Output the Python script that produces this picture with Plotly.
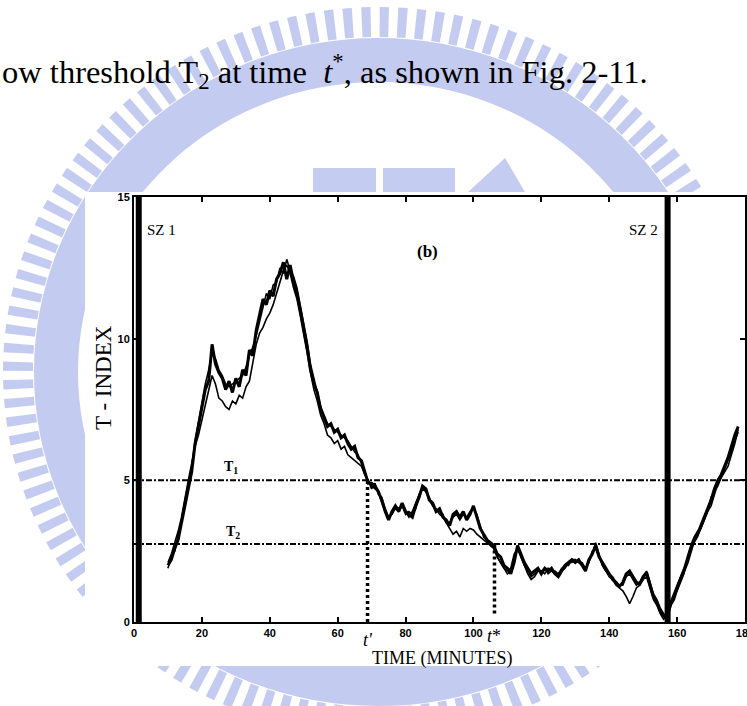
import plotly.graph_objects as go

# ---- data -------------------------------------------------------------
minutes = list(range(10, 179))  # one sample per minute, 10..178

# thick curve
t_index_a = [
    2.0, 2.2, 2.6, 2.9, 3.5, 4.1, 4.7, 5.3, 6.3, 6.9,        # 10-19
    7.5, 8.2, 8.5, 9.8, 9.1, 8.8, 8.6, 8.2, 8.5, 8.1,        # 20-29
    8.6, 8.3, 8.9, 8.7, 9.6, 9.4, 10.3, 10.8, 11.4, 11.2,    # 30-39
    11.7, 11.5, 12.1, 12.3, 12.7, 12.1, 12.6, 12.0, 11.6, 11.0,  # 40-49
    10.4, 9.7, 8.9, 8.4, 8.1, 7.5, 7.2, 6.9, 7.0, 6.7,       # 50-59
    6.8, 6.5, 6.6, 6.3, 6.1, 6.2, 5.8, 5.7, 5.3, 4.9,        # 60-69
    4.9, 4.8, 4.6, 4.3, 3.9, 3.6, 3.9, 4.1, 3.9, 4.2,        # 70-79
    3.9, 3.8, 3.7, 4.1, 4.4, 4.8, 4.7, 4.3, 4.2, 3.9,        # 80-89
    4.0, 3.7, 3.6, 3.4, 3.8, 3.9, 3.7, 3.9, 3.6, 3.8,        # 90-99
    4.1, 3.7, 3.3, 3.1, 2.9, 2.8, 2.7, 2.4, 2.3, 2.0,        # 100-109
    1.9, 1.7, 2.1, 2.7, 2.4, 2.1, 1.9, 1.7, 1.8, 1.9,        # 110-119
    1.7, 1.9, 1.8, 1.9, 1.7, 1.6, 1.8, 2.0, 2.1, 2.2,        # 120-129
    2.1, 2.2, 2.0, 1.8, 2.2, 2.4, 2.7, 2.3, 2.1, 1.9,        # 130-139
    1.7, 1.5, 1.4, 1.25, 1.4, 1.7, 1.8, 1.6, 1.4, 1.35,      # 140-149
    1.6, 1.75, 1.3, 0.9, 0.7, 0.4, 0.2, 0.15, 0.6, 0.8,      # 150-159
    1.2, 1.5, 1.8, 2.1, 2.5, 2.9, 3.1, 3.4, 3.7, 4.0,        # 160-169
    4.3, 4.7, 5.0, 5.2, 5.5, 5.8, 6.2, 6.6, 6.9,             # 170-178
]

# thin curve (runs lower through the dips)
t_index_b = [
    2.1, 2.4, 2.8, 3.2, 3.7, 4.4, 5.0, 5.6, 6.2, 6.6,
    7.1, 7.7, 8.1, 8.7, 8.4, 7.9, 7.8, 7.6, 7.5, 7.8,
    7.7, 8.0, 7.9, 8.3, 8.5, 9.2, 9.8, 10.2, 10.4, 10.7,
    10.9, 11.2, 11.6, 12.0, 12.4, 12.6, 12.3, 11.8, 11.4, 10.8,
    10.2, 9.5, 8.8, 8.2, 7.8, 7.3, 7.0, 6.6, 6.5, 6.3,
    6.4, 6.1, 6.2, 5.9, 5.8, 5.7, 5.6, 5.5, 5.2, 5.0,
    4.8, 4.7, 4.6, 4.2, 3.9, 3.7, 3.8, 4.0, 3.9, 4.1,
    3.8, 3.9, 3.8, 4.0, 4.5, 4.7, 4.6, 4.4, 4.1, 4.0,
    3.8, 3.7, 3.5, 3.3, 3.1, 3.2, 3.0, 3.3, 3.2, 3.3,
    3.25, 3.1, 3.0, 2.9, 2.8, 2.7, 2.6, 2.3, 2.1, 1.9,
    1.8, 1.9, 2.4, 2.6, 2.3, 2.0, 1.7, 1.5, 1.6, 1.8,
    1.8, 1.7, 1.9, 1.8, 1.7, 1.7, 1.8, 1.9, 2.1, 2.1,
    2.2, 2.1, 2.0, 1.9, 2.1, 2.5, 2.6, 2.3, 2.0, 1.8,
    1.6, 1.5, 1.3, 1.2, 1.1, 0.9, 0.65, 0.9, 1.2, 1.3,
    1.5, 1.6, 1.2, 0.8, 0.6, 0.3, 0.1, 0.2, 0.7, 1.0,
    1.3, 1.6, 1.9, 2.3, 2.7, 3.0, 3.2, 3.3, 3.6, 3.9,
    4.1, 4.5, 4.9, 5.1, 5.3, 5.5, 5.9, 6.3, 6.8,
]

# thin curve (tracks the thick one closely)
t_index_c = [
    1.9, 2.3, 2.5, 3.0, 3.6, 4.3, 4.9, 5.5, 6.4, 7.1,
    7.8, 8.4, 8.9, 9.5, 9.3, 8.9, 8.7, 8.4, 8.3, 8.4,
    8.5, 8.6, 8.7, 9.0, 9.4, 9.7, 10.1, 10.6, 11.1, 11.6,
    11.4, 11.9, 12.0, 12.5, 12.3, 12.8, 12.4, 12.2, 11.8, 11.2,
    10.6, 9.9, 9.1, 8.6, 8.2, 7.6, 7.3, 7.0, 6.9, 6.8,
    6.7, 6.6, 6.5, 6.4, 6.2, 6.0, 5.9, 5.6, 5.2, 5.0,
    4.7, 4.9, 4.5, 4.4, 4.0, 3.7, 3.8, 4.1, 4.0, 4.1,
    3.9, 3.7, 3.9, 4.2, 4.5, 4.8, 4.6, 4.3, 4.1, 3.9,
    3.9, 3.8, 3.5, 3.5, 3.7, 3.8, 3.6, 3.8, 3.7, 3.9,
    4.0, 3.8, 3.4, 3.0, 2.9, 2.7, 2.6, 2.3, 2.1, 1.9,
    1.7, 1.8, 2.3, 2.6, 2.3, 2.0, 1.8, 1.6, 1.7, 1.8,
    1.8, 1.9, 1.7, 1.8, 1.8, 1.7, 1.9, 2.0, 2.0, 2.2,
    2.2, 2.1, 2.1, 1.9, 2.1, 2.4, 2.8, 2.4, 2.0, 1.8,
    1.7, 1.6, 1.4, 1.3, 1.3, 1.6, 1.7, 1.5, 1.3, 1.4,
    1.5, 1.8, 1.4, 1.0, 0.8, 0.5, 0.3, 0.2, 0.5, 0.9,
    1.1, 1.4, 1.7, 2.2, 2.6, 2.8, 3.0, 3.3, 3.6, 3.9,
    4.4, 4.6, 4.8, 5.1, 5.4, 5.7, 6.0, 6.4, 6.7,
]

x_ticks = [0, 20, 40, 60, 80, 100, 120, 140, 160, 180]
y_ticks = [0, 5, 10, 15]

T1 = 5.0          # high threshold
T2 = 2.75         # low threshold
t_prime = 68.8    # crossing of T1
t_star = 106.2    # crossing of T2
sz1 = 1.4         # seizure 1 onset (min)
sz2 = 157.2       # seizure 2 onset (min)

# ---- geometry helpers (page pixels -> paper fractions) ----------------
W, H = 747, 706
L, R, T, B = 134, 2, 197, 84
PW, PH = W - L - R, H - T - B


def px(x):
    return (x - L) / PW


def py(y):
    return (H - B - y) / PH


SERIF = "Liberation Serif, Times New Roman, serif"
NARROW = "Liberation Sans Narrow, Arial Narrow, Liberation Sans, sans-serif"

fig = go.Figure()

for vals, width in ((t_index_b, 1.6), (t_index_c, 1.6), (t_index_a, 3.0)):
    fig.add_trace(go.Scatter(
        x=minutes, y=vals, mode="lines",
        line=dict(color="black", width=width),
        hoverinfo="skip", showlegend=False,
    ))

shapes = []

# faint seal behind the page content
seal = "#aeb8ec"
seal_op = 0.72
cx, cy = 378, 372
for rx, ry, w, dash in ((360, 350, 30, "9px,9px"), (322, 312, 44, "solid")):
    shapes.append(dict(
        type="circle", xref="paper", yref="paper", layer="below",
        x0=px(cx - rx), x1=px(cx + rx), y0=py(cy + ry), y1=py(cy - ry),
        line=dict(color=seal, width=w, dash=dash), fillcolor="rgba(0,0,0,0)",
        opacity=seal_op,
    ))
for x0, x1 in ((313, 376), (383, 455)):
    shapes.append(dict(
        type="rect", xref="paper", yref="paper", layer="below",
        x0=px(x0), x1=px(x1), y0=py(192), y1=py(168),
        line=dict(width=0), fillcolor=seal, opacity=seal_op,
    ))
shapes.append(dict(
    type="path", xref="paper", yref="paper", layer="below",
    path=f"M {px(468)},{py(192)} L {px(505)},{py(158)} L {px(525)},{py(192)} Z",
    line=dict(width=0), fillcolor=seal, opacity=seal_op,
))
# white backing of the figure panel
shapes.append(dict(
    type="rect", xref="paper", yref="paper", layer="below",
    x0=px(85), x1=px(760), y0=py(666), y1=py(192),
    line=dict(width=0), fillcolor="white",
))

# seizure onset bars
for s in (sz1, sz2):
    shapes.append(dict(type="line", xref="x", yref="y", x0=s, x1=s, y0=0, y1=15,
                       line=dict(color="black", width=6)))

# thresholds
for thr in (T1, T2):
    shapes.append(dict(type="line", xref="x", yref="y", x0=0, x1=180, y0=thr, y1=thr,
                       line=dict(color="black", width=2, dash="6px,2px,2px,2px")))

# crossing times
shapes.append(dict(type="line", xref="x", yref="y", x0=t_prime, x1=t_prime, y0=0, y1=T1,
                   line=dict(color="black", width=3.5, dash="3px,3px")))
shapes.append(dict(type="line", xref="x", yref="y", x0=t_star, x1=t_star, y0=0.3, y1=T2,
                   line=dict(color="black", width=3.5, dash="3px,3px")))

annotations = [
    dict(text="ow threshold T<sub>2</sub> at time\u00a0\u00a0<i>t</i><sup>*</sup>, as shown in Fig. 2-11.",
         xref="paper", yref="paper", x=px(0), y=py(72), xanchor="left", yanchor="middle",
         showarrow=False, font=dict(family=SERIF, size=32.5, color="black")),
    dict(text="SZ 1", xref="paper", yref="paper", x=px(145), y=py(230),
         xanchor="left", yanchor="middle", showarrow=False,
         font=dict(family=SERIF, size=15, color="black")),
    dict(text="SZ 2", xref="paper", yref="paper", x=px(660), y=py(230),
         xanchor="right", yanchor="middle", showarrow=False,
         font=dict(family=SERIF, size=15, color="black")),
    dict(text="<b>(b)</b>", xref="paper", yref="paper", x=px(427), y=py(251),
         xanchor="center", yanchor="middle", showarrow=False,
         font=dict(family=SERIF, size=17, color="black")),
    dict(text="<b>T<sub>1</sub></b>", xref="paper", yref="paper", x=px(231), y=py(467),
         xanchor="center", yanchor="middle", showarrow=False,
         font=dict(family=SERIF, size=14, color="black")),
    dict(text="<b>T<sub>2</sub></b>", xref="paper", yref="paper", x=px(233), y=py(532),
         xanchor="center", yanchor="middle", showarrow=False,
         font=dict(family=SERIF, size=14, color="black")),
    dict(text="<i>t'</i>", xref="x", yref="paper", x=t_prime, y=py(640),
         xanchor="center", yanchor="middle", showarrow=False,
         font=dict(family=SERIF, size=18, color="black")),
    dict(text="<i>t</i>*", xref="x", yref="paper", x=t_star, y=py(636),
         xanchor="center", yanchor="middle", showarrow=False,
         font=dict(family=SERIF, size=18, color="black")),
    dict(text="TIME (MINUTES)", xref="paper", yref="paper", x=px(442), y=py(658),
         xanchor="center", yanchor="middle", showarrow=False,
         font=dict(family=SERIF, size=18, color="black")),
    dict(text="T - INDEX", xref="paper", yref="paper", x=px(103), y=py(378),
         xanchor="center", yanchor="middle", showarrow=False, textangle=-90,
         font=dict(family=SERIF, size=23, color="black")),
]

fig.update_layout(
    width=W, height=H,
    margin=dict(l=L, r=R, t=T, b=B, pad=0, autoexpand=False),
    paper_bgcolor="white", plot_bgcolor="white",
    shapes=shapes, annotations=annotations,
    showlegend=False,
)
fig.update_xaxes(
    range=[0, 180], tickvals=x_ticks, ticktext=[str(v) for v in x_ticks],
    showgrid=False, zeroline=False, showline=True, linecolor="black", linewidth=2,
    mirror="allticks", ticks="inside", ticklen=5, tickwidth=1.5, tickcolor="black",
    ticklabeloverflow="allow", automargin=False,
    tickfont=dict(family=NARROW, size=11, color="black", weight="bold"),
)
fig.update_yaxes(
    range=[0, 15], tickvals=y_ticks, automargin=False,
    showgrid=False, zeroline=False, showline=True, linecolor="black", linewidth=2,
    mirror="allticks", ticks="inside", ticklen=5, tickwidth=1.5, tickcolor="black",
    tickfont=dict(family=NARROW, size=11, color="black", weight="bold"),
)

fig.write_html("out.html")
